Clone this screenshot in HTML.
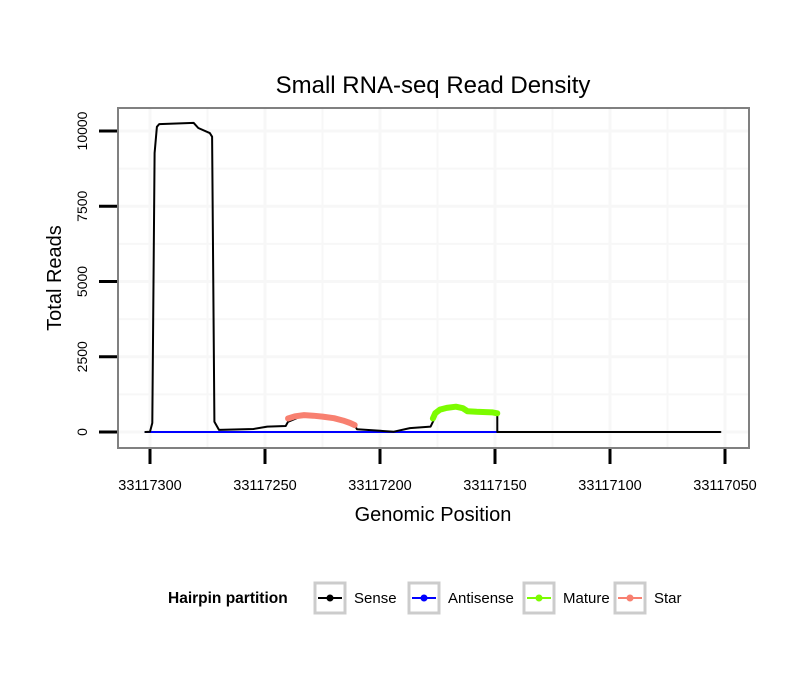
<!DOCTYPE html>
<html><head><meta charset="utf-8"><style>
body{margin:0;background:#fff;}
svg{display:block;font-family:"Liberation Sans",sans-serif;}
</style></head><body>
<svg id="chart" width="810" height="690">
<text x="433" y="93" text-anchor="middle" font-size="24">Small RNA-seq Read Density</text>
<g id="grid"></g>
<g id="marks"></g>
<rect x="118" y="108" width="631" height="340" fill="none" stroke="#808080" stroke-width="2"/>
<g id="axes"></g>
<text x="433" y="521" text-anchor="middle" font-size="20">Genomic Position</text>
<text transform="translate(61,278) rotate(-90)" text-anchor="middle" font-size="20">Total Reads</text>
<g>
<text x="168" y="603" font-size="15.5" font-weight="bold">Hairpin partition</text>
<g id="legend"></g>
</g>
</svg>
<script>
const xTicks=[33117300,33117250,33117200,33117150,33117100,33117050];
const yTicks=[0,2500,5000,7500,10000];
const sensePos=[33117302,33117300,33117299,33117298,33117297,33117296,33117281,33117279,33117274,33117273,33117272,33117270,33117255,33117249,33117241,33117240,33117233,33117225,33117216,33117211,33117210,33117194,33117187,33117178,33117177,33117174,33117167,33117162,33117154,33117149,33117149,33117052];
const senseVal=[0,10,300,9270,10140,10230,10270,10100,9930,9810,340,70,100,180,200,340,560,510,340,230,90,10,130,180,340,800,840,670,640,620,0,0];
const starPos=[33117240,33117237,33117233,33117229,33117225,33117220,33117216,33117213,33117211];
const starVal=[450,520,560,540,510,460,380,300,230];
const maturePos=[33117177,33117176,33117174,33117171,33117167,33117164,33117162,33117158,33117154,33117151,33117149];
const matureVal=[450,620,740,800,840,790,690,670,660,650,620];
const antiPos=[33117302,33117149];
const antiVal=[0,0];
const NS='http://www.w3.org/2000/svg';
const xs=p=>150+(33117300-p)*2.3;
const ys=v=>432-v*0.0301;
function mk(tag,attrs,parent){const e=document.createElementNS(NS,tag);for(const k in attrs)e.setAttribute(k,attrs[k]);parent.appendChild(e);return e;}
const grid=document.getElementById('grid'),marks=document.getElementById('marks'),axes=document.getElementById('axes');
for(let p=33117325;p>=33117025;p-=25){const x=xs(p);if(x<119||x>748)continue;const l=mk('line',{x1:x,x2:x,y1:109,y2:447,stroke:'#f7f7f7','stroke-width':p%50?2:3},grid);

}
for(let v=0;v<=11250;v+=1250){const y=ys(v);if(y<109)continue;const l=mk('line',{x1:119,x2:748,y1:y,y2:y,stroke:'#f7f7f7','stroke-width':v%2500?2:3},grid);

}
xTicks.forEach(t=>{const x=xs(t);const l=mk('line',{x1:x,x2:x,y1:449,y2:464,stroke:'#000','stroke-width':3},axes);


const tx=mk('text',{x:x,y:490,'text-anchor':'middle','font-size':14.5},axes);tx.textContent=t;

});
yTicks.forEach(t=>{const y=ys(t);const l=mk('line',{x1:99,x2:117,y1:y,y2:y,stroke:'#000','stroke-width':3},axes);


const tx=mk('text',{transform:`translate(87,${y}) rotate(-90)`,'text-anchor':'middle','font-size':14},axes);tx.textContent=t;

});
function line(P,V,color,w,name){const d=P.map((p,i)=>(i?'L':'M')+xs(p).toFixed(1)+','+ys(V[i]).toFixed(1)).join('');
const e=mk('path',{d:d,fill:'none',stroke:color,'stroke-width':w,'stroke-linejoin':'round','stroke-linecap':'round'},marks);

}
line(antiPos,antiVal,'#0000ff',2,'antisense-line');
line(sensePos,senseVal,'#000',2,'sense-line');
line(starPos,starVal,'#f88070',6,'star-line');
line(maturePos,matureVal,'#7cfc00',6,'mature-line');
const leg=document.getElementById('legend');
const items=[['Sense','#000',313],['Antisense','#0000ff',407],['Mature','#7cfc00',522],['Star','#f88070',613]];
items.forEach(([n,c,x])=>{const g=mk('g',{},leg);


mk('rect',{x:x+2,y:583,width:30,height:30,fill:'#fff',stroke:'#cccccc','stroke-width':3},g);
mk('line',{x1:x+5,x2:x+29,y1:598,y2:598,stroke:c,'stroke-width':2},g);
mk('circle',{cx:x+17,cy:598,r:3.5,fill:c},g);
const t=mk('text',{x:x+41,y:603,'font-size':15},g);t.textContent=n;});
</script>
</body></html>
